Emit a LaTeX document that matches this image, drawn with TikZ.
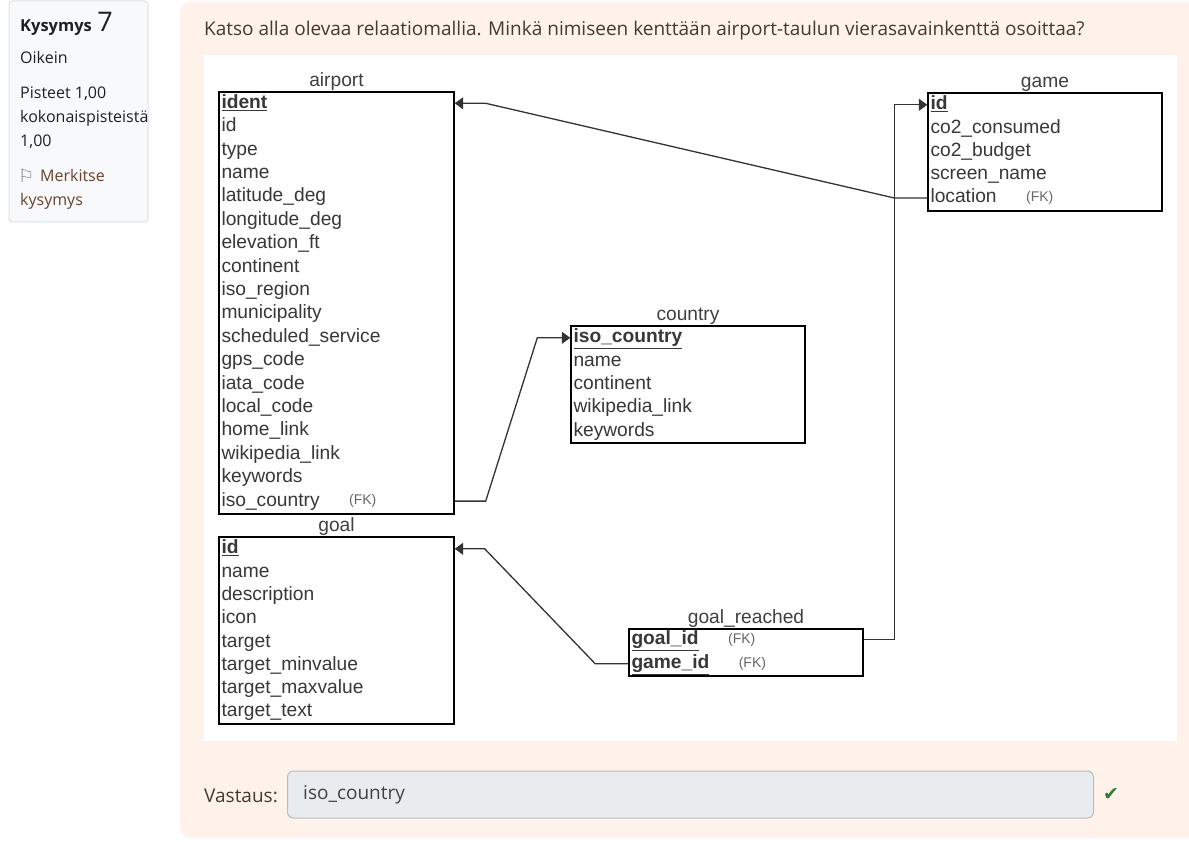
\documentclass[tikz,border=0pt]{standalone}
\usepackage{fontspec}
\setmainfont{Open Sans}
\newfontfamily\erfont{Liberation Sans}
\newfontfamily\symfont{DejaVu Sans}
\usetikzlibrary{arrows.meta,positioning,calc}

\definecolor{panelbg}{RGB}{254,242,234}
\definecolor{cardbg}{RGB}{248,249,250}
\definecolor{cardline}{RGB}{222,226,230}
\definecolor{inputbg}{RGB}{233,236,239}
\definecolor{inputline}{RGB}{184,188,192}
\definecolor{uitext}{RGB}{72,56,46}
\definecolor{linktext}{RGB}{105,66,46}
\definecolor{darktext}{RGB}{29,33,37}
\definecolor{okgreen}{RGB}{53,122,50}

\newcommand{\keyf}[1]{\underline{\textbf{#1}}}

\begin{document}
\begin{tikzpicture}[x=1pt, y=-1pt, >={Triangle[length=8.5pt,width=12pt]},
    tbl/.style={draw=black, line width=1.4pt, inner sep=0pt},
    ttl/.style={inner sep=0pt, text=black!75, font=\erfont\fontsize{19.2}{20}\selectfont},
    fld/.style={anchor=west, inner sep=0pt, text height=14pt, text depth=4pt, text=black!78, font=\erfont\fontsize{19.2}{20}\selectfont},
    fk/.style={inner sep=0pt, text=black!60, font=\erfont\fontsize{14}{14}\selectfont},
    fkline/.style={draw=black!80, line width=1.3pt},
    cardtxt/.style={anchor=base west, inner sep=0pt, text=darktext, font=\fontsize{16}{18}\selectfont},
    uitxt/.style={anchor=west, inner sep=0pt, text=uitext, font=\fontsize{19}{22}\selectfont}]
    \useasboundingbox (0,0) rectangle (1189,842);

    % Page background
    \fill[white] (0,0) rectangle (1189,842);
    \fill[panelbg, rounded corners=10pt] (180,2) rectangle (1215,838);
    \filldraw[fill=cardbg, draw=cardline, line width=1pt, rounded corners=3pt] (9,1) rectangle (148,222);
    \fill[white] (204,55) rectangle (1177,741);

    % Question info card
    \node[cardtxt, font=\fontsize{16.5}{18}\selectfont\bfseries] (qlabel) at (20,32) {Kysymys};
    \node[cardtxt, font=\fontsize{27}{29}\selectfont] (qnum) at ([xshift=5pt]qlabel.base east) {7};
    \node[cardtxt] (state) at (20,64) {Oikein};
    \node[cardtxt] (grade1) at (20,99) {Pisteet 1,00};
    \node[cardtxt] (grade2) at (20,123) {kokonaispisteistä};
    \node[cardtxt] (grade3) at (20,147) {1,00};
    \node[cardtxt, text=black!50, font=\symfont\fontsize{18}{18}\selectfont] (flag) at (18,183) {⚐};
    \node[cardtxt, text=linktext] (flagtxt) at (40,182) {Merkitse};
    \node[cardtxt, text=linktext] (flagtxt2) at (20,206) {kysymys};

    % Question text
    \node[uitxt] (question) at (204,31) {Katso alla olevaa relaatiomallia. Minkä nimiseen kenttään airport-taulun vierasavainkenttä osoittaa?};

    % Tables
    \node[tbl, minimum width=235, minimum height=422] (airport) at (336.5,303) {};
    \node[tbl, minimum width=235, minimum height=187] (goal) at (336.5,630.5) {};
    \node[tbl, minimum width=234, minimum height=117] (country) at (688,384.5) {};
    \node[tbl, minimum width=234, minimum height=118] (game) at (1045,152) {};
    \node[tbl, minimum width=234, minimum height=47] (goalr) at (746,652.5) {};

    \node[ttl, above=1pt of airport] {airport};
    \node[ttl, above=1pt of goal] {goal};
    \node[ttl, above=1pt of country] {country};
    \node[ttl, above=1pt of game] {game};
    \node[ttl, above=1pt of goalr] {goal\_reached};

    % Fields
    \foreach \f [count=\i] in {\keyf{ident}, id, type, name, latitude\_deg, longitude\_deg, elevation\_ft, continent, iso\_region, municipality, scheduled\_service, gps\_code, iata\_code, local\_code, home\_link, wikipedia\_link, keywords, iso\_country}
        \node[fld] (airport-\i) at ($(airport.north west)+(3,{12+(\i-1)*23.4})$) {\f};
    \foreach \f [count=\i] in {\keyf{id}, name, description, icon, target, target\_minvalue, target\_maxvalue, target\_text}
        \node[fld] (goal-\i) at ($(goal.north west)+(3,{12.5+(\i-1)*23.3})$) {\f};
    \foreach \f [count=\i] in {\keyf{iso\_country}, name, continent, wikipedia\_link, keywords}
        \node[fld] (country-\i) at ($(country.north west)+(3,{12.5+(\i-1)*23.3})$) {\f};
    \foreach \f [count=\i] in {\keyf{id}, co2\_consumed, co2\_budget, screen\_name, location}
        \node[fld] (game-\i) at ($(game.north west)+(3,{12.5+(\i-1)*23.3})$) {\f};
    \foreach \f [count=\i] in {\keyf{goal\_id}, \keyf{game\_id}}
        \node[fld] (goalr-\i) at ($(goalr.north west)+(3,{11.5+(\i-1)*24})$) {\f};

    \node[fk, right=29pt of airport-18] {(FK)};
    \node[fk, right=29pt of game-5] {(FK)};
    \node[fk, right=29pt of goalr-1] {(FK)};
    \node[fk, right=29pt of goalr-2] {(FK)};

    % Foreign key links
    \draw[fkline, ->] (game.west |- game-5) -- ++(-33,0) -- ($(airport.east |- airport-1)+(31,0)$) -- (airport.east |- airport-1);
    \draw[fkline, ->] (airport.east |- airport-18) -- ++(31,0) -- ($(country.west |- country-1)+(-33,0)$) -- (country.west |- country-1);
    \draw[fkline, ->] (goalr.west |- goalr-2) -- ++(-33,0) -- ($(goal.east |- goal-1)+(30,0)$) -- (goal.east |- goal-1);
    \draw[fkline, ->] (goalr.east |- goalr-1) -- ++(31,0) |- (game.west |- game-1);

    % Answer
    \node[uitxt] (vastaus) at (204,796) {Vastaus:};
    \node[draw=inputline, fill=inputbg, line width=1pt, rounded corners=6pt, minimum width=806, minimum height=47, anchor=west] (answer) at (287,794.5) {};
    \node[uitxt, text=darktext!85] (answertxt) at ([xshift=16pt]answer.west) {iso\_country};
    \node[anchor=west, inner sep=0pt, text=okgreen, font=\symfont\fontsize{19}{20}\selectfont] (ok) at ([xshift=9pt]answer.east) {✔};
\end{tikzpicture}
\end{document}
